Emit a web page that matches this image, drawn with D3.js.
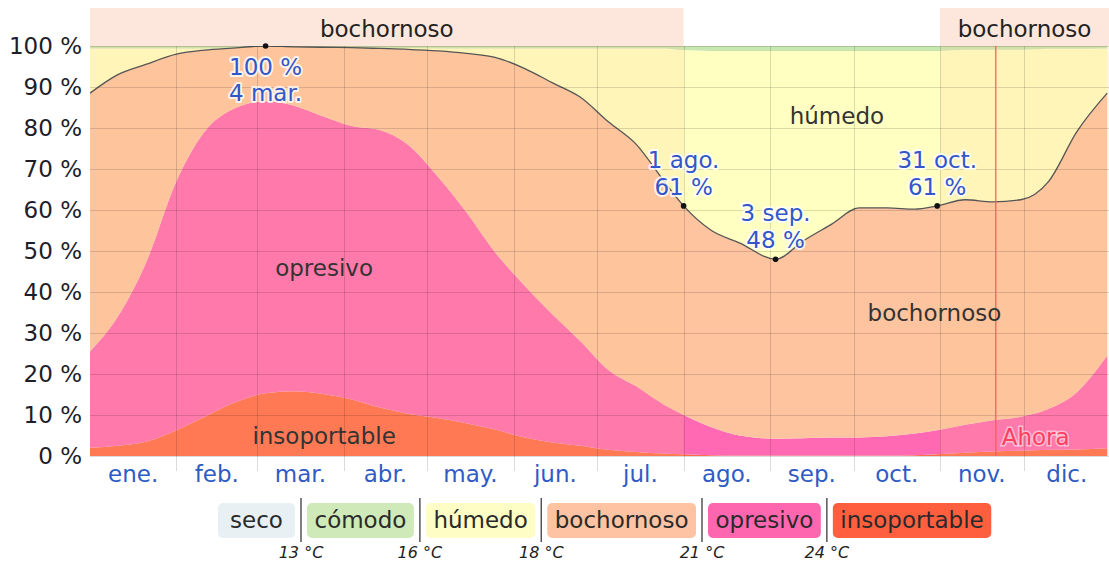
<!DOCTYPE html>
<html lang="es">
<head>
<meta charset="UTF-8">
<title>Niveles de comodidad de la humedad</title>
<script src="https://d3js.org/d3.v7.min.js"></script>
<style>
  body { margin: 0; background: #fff; }
  svg { display: block; font-family: "DejaVu Sans", Verdana, sans-serif; }
  .tick-y { font-size: 23px; fill: #1d1d2b; text-anchor: end; }
  .month { font-size: 23px; fill: #2f5bc4; text-anchor: middle; }
  .grid { stroke: #000; stroke-opacity: 0.14; stroke-width: 1; }
  .note { font-size: 23px; fill: #3356c8; text-anchor: middle;
          stroke: #fff; stroke-width: 4; stroke-opacity: 0.8; paint-order: stroke; stroke-linejoin: round; }
  .cat { font-size: 23px; fill: #333; text-anchor: middle; }
  .band-label { font-size: 23px; fill: #222; text-anchor: middle; }
  .legend-text { font-size: 23px; fill: #2a2a2a; }
  .temp { font-size: 16px; font-style: italic; fill: #222; text-anchor: middle; }
  .now { font-size: 23px; fill: #ff3f5f; stroke: #fff; stroke-width: 3; stroke-opacity: 0.5; paint-order: stroke; }
</style>
</head>
<body>
<svg id="chart" width="1109" height="565"></svg>
<script>
// sample dates (leap year axis)
const dates = [
  "2024-01-01","2024-01-11","2024-01-21","2024-02-01","2024-02-11","2024-02-21",
  "2024-03-04","2024-03-14","2024-03-24","2024-04-04","2024-04-14","2024-04-24",
  "2024-05-05","2024-05-15","2024-05-25","2024-06-05","2024-06-15","2024-06-25",
  "2024-07-05","2024-07-15","2024-07-25","2024-08-01","2024-08-11","2024-08-21",
  "2024-09-03","2024-09-13","2024-09-23","2024-10-03","2024-10-13","2024-10-23",
  "2024-10-31","2024-11-10","2024-11-20","2024-11-30","2024-12-10","2024-12-20",
  "2024-12-31"
];

// % of time in each category
const insoportable = [2, 2.5, 3.5, 6.3, 9.5, 12.8, 15.3, 15.8, 15.2, 13.8, 11.8, 10.3,
  9.2, 8, 6.5, 4.5, 3.3, 2.5, 1.5, 1, 0.6, 0.4, 0.2, 0.1,
  0.1, 0.1, 0.1, 0.1, 0.1, 0.2, 0.4, 0.8, 1.1, 1.3, 1.5, 1.6, 1.9];
const opresivo = [23.5, 31.5, 43.5, 60.7, 69.5, 71.7, 71.2, 69.7, 67.8, 66.7, 67.7, 65.7,
  58.8, 51.5, 43.5, 37, 31.2, 25.5, 19.5, 16, 11.9, 9.6, 6.8, 4.9,
  4.1, 4.2, 4.4, 4.4, 4.7, 5.3, 5.9, 6.8, 7.6, 8.3, 10, 13.9, 22.6];
const bochornoso = [63, 59, 48.5, 31, 20, 15, 13.5, 14.3, 16.7, 19.1, 19.9, 23.2,
  30.8, 38.7, 47.3, 53, 56.5, 59.5, 60.5, 59, 54.5, 51, 48, 47,
  43.8, 48.2, 52, 56, 55.7, 54.7, 54.7, 54.9, 53.3, 52.9, 55.5, 63.5, 64];
const humedo = [10.9, 6.4, 3.9, 1.4, 0.4, 0.1, 0, 0, 0, 0.1, 0.2, 0.3,
  0.6, 1.2, 2.1, 4.9, 8.4, 11.9, 17.9, 23.4, 32.4, 38, 43.8, 46.8,
  50.8, 46.3, 42.3, 38.3, 38.3, 38.6, 37.8, 36.6, 37.1, 36.6, 32.3, 20.3, 10.9];
const comodo = [0.6, 0.6, 0.6, 0.6, 0.6, 0.4, 0, 0.2, 0.3, 0.3, 0.4, 0.5,
  0.6, 0.6, 0.6, 0.6, 0.6, 0.6, 0.6, 0.6, 0.6, 1.0, 1.2, 1.2,
  1.2, 1.2, 1.2, 1.2, 1.2, 1.2, 1.2, 0.9, 0.9, 0.9, 0.7, 0.7, 0.6];
const seco = dates.map(() => 0);

const categories = ["seco", "cómodo", "húmedo", "bochornoso", "opresivo", "insoportable"];
const areaColors = ["#e6eff2", "#c8e6b0", "#ffffc2", "#fec4a0", "#ff69b3", "#ff6a48"];
const legendColors = ["#e8f0f3", "#cfe9b9", "#fefdc6", "#fdc3a2", "#ff66b0", "#ff5f3f"];
const thresholds = ["13 °C", "16 °C", "18 °C", "21 °C", "24 °C"];
const monthLabels = ["ene.","feb.","mar.","abr.","may.","jun.","jul.","ago.","sep.","oct.","nov.","dic."];

// muggy periods (top band)
const muggyPeriods = [["2024-01-01", "2024-08-01"], ["2024-11-01", "2025-01-01"]];
const notes = [
  { date: "2024-03-04", value: 100, lines: ["100 %", "4 mar."], below: true },
  { date: "2024-08-01", value: 61, lines: ["1 ago.", "61 %"] },
  { date: "2024-09-03", value: 48, lines: ["3 sep.", "48 %"] },
  { date: "2024-10-31", value: 61, lines: ["31 oct.", "61 %"] }
];
const nowDate = "2024-11-21";

const parse = d3.timeParse("%Y-%m-%d");
const svg = d3.select("#chart");
const x = d3.scaleTime().domain([parse("2024-01-01"), parse("2025-01-01")]).range([90, 1110]);
const y = d3.scaleLinear().domain([0, 100]).range([456, 46]);

const rows = dates.map((d, i) => ({
  date: parse(d),
  "insoportable": insoportable[i], "opresivo": opresivo[i], "bochornoso": bochornoso[i],
  "húmedo": humedo[i], "cómodo": comodo[i], "seco": seco[i]
}));
const stackKeys = categories.slice().reverse();
const series = d3.stack().keys(stackKeys)(rows);

svg.append("clipPath").attr("id", "plot")
  .append("rect").attr("x", 90).attr("y", y(100)).attr("width", 1020).attr("height", y(0) - y(100));

const area = d3.area()
  .x(d => x(d.data.date)).y0(d => y(d[0])).y1(d => y(d[1]))
  .curve(d3.curveMonotoneX);

const plot = svg.append("g").attr("clip-path", "url(#plot)");
plot.selectAll("path.area").data(series).join("path")
  .attr("class", "area")
  .attr("fill", s => areaColors[categories.indexOf(s.key)])
  .attr("d", area);

// tint over the muggy periods
plot.selectAll("rect.tint").data(muggyPeriods).join("rect")
  .attr("class", "tint")
  .attr("x", d => x(parse(d[0]))).attr("width", d => x(parse(d[1])) - x(parse(d[0])))
  .attr("y", y(100)).attr("height", y(0) - y(100))
  .attr("fill", "rgb(255,200,140)").attr("fill-opacity", 0.18);

// top band
svg.selectAll("rect.band").data(muggyPeriods).join("rect")
  .attr("class", "band")
  .attr("x", d => x(parse(d[0]))).attr("width", d => Math.min(x(parse(d[1])), 1109) - x(parse(d[0])))
  .attr("y", 8).attr("height", y(100) - 8)
  .attr("fill", "#fde6dc");
svg.selectAll("text.band-label").data(muggyPeriods).join("text")
  .attr("class", "band-label")
  .attr("x", d => (x(parse(d[0])) + Math.min(x(parse(d[1])), 1109)) / 2)
  .attr("y", 37)
  .text("bochornoso");

// gridlines
const yTicks = y.ticks(10);
svg.append("g").selectAll("line").data(yTicks).join("line")
  .attr("class", "grid")
  .attr("x1", 90).attr("x2", 1110)
  .attr("y1", d => Math.round(y(d)) + 0.5).attr("y2", d => Math.round(y(d)) + 0.5);

const months = d3.timeMonth.range(parse("2024-01-01"), parse("2025-01-01"));
svg.append("g").selectAll("line").data(months.slice(1)).join("line")
  .attr("class", "grid")
  .attr("x1", d => Math.round(x(d)) + 0.5).attr("x2", d => Math.round(x(d)) + 0.5)
  .attr("y1", y(100)).attr("y2", 471);

// muggy line (bochornoso or worse)
const muggy = d3.line()
  .x((d, i) => x(rows[i].date))
  .y(d => y(d))
  .curve(d3.curveMonotoneX);
plot.append("path")
  .datum(rows.map((r, i) => insoportable[i] + opresivo[i] + bochornoso[i]))
  .attr("fill", "none").attr("stroke", "#555").attr("stroke-width", 1.3)
  .attr("d", muggy);

// now line
const xn = x(parse(nowDate));
svg.append("line")
  .attr("x1", xn).attr("x2", xn).attr("y1", y(100)).attr("y2", y(0))
  .attr("stroke", "#ff5a5a").attr("stroke-width", 1.5).attr("stroke-opacity", 0.85);
svg.append("text").attr("class", "now")
  .attr("x", xn + 6).attr("y", y(0) - 11).text("Ahora");

// y axis labels
svg.append("g").selectAll("text").data(yTicks).join("text")
  .attr("class", "tick-y")
  .attr("x", 82).attr("y", d => y(d) + 8)
  .text(d => d + " %");

// month labels
svg.append("g").selectAll("text").data(months).join("text")
  .attr("class", "month")
  .attr("x", d => (x(d) + x(d3.timeMonth.offset(d, 1))) / 2)
  .attr("y", 482)
  .text((d, i) => monthLabels[i]);

// category labels inside plot
const catLabels = [
  { text: "opresivo", date: "2024-03-25", value: 44 },
  { text: "húmedo", date: "2024-09-25", value: 81 },
  { text: "bochornoso", date: "2024-10-30", value: 33 },
  { text: "insoportable", date: "2024-03-25", value: 3 }
];
svg.append("g").selectAll("text").data(catLabels).join("text")
  .attr("class", "cat")
  .attr("x", d => x(parse(d.date)))
  .attr("y", d => y(d.value))
  .text(d => d.text);

// annotated points
const ng = svg.append("g");
ng.selectAll("circle").data(notes).join("circle")
  .attr("cx", d => x(parse(d.date))).attr("cy", d => y(d.value))
  .attr("r", 2.8).attr("fill", "#111");
notes.forEach(n => {
  const cx = x(parse(n.date)), cy = y(n.value);
  const base = n.below ? [cy + 29, cy + 55] : [cy - 38, cy - 11];
  n.lines.forEach((t, i) => {
    ng.append("text").attr("class", "note")
      .attr("x", cx).attr("y", base[i]).text(t);
  });
});

// legend
const lg = svg.append("g");
const pad = 7.5, gap = 6, minBox = 77;
let lx = 218;
const sepX = [];
categories.forEach((c, i) => {
  const t = lg.append("text").attr("class", "legend-text").attr("y", 528).text(c);
  const w = t.node().getComputedTextLength();
  const bw = Math.max(minBox, w + pad * 2);
  lg.insert("rect", "text")
    .attr("x", lx).attr("y", 503).attr("width", bw).attr("height", 35)
    .attr("rx", 5).attr("fill", legendColors[i]);
  t.attr("x", lx + (bw - w) / 2);
  lx += bw;
  if (i < categories.length - 1) {
    sepX.push(lx + gap);
    lx += gap * 2;
  }
});
lg.selectAll("line").data(sepX).join("line")
  .attr("x1", d => d).attr("x2", d => d).attr("y1", 498).attr("y2", 542)
  .attr("stroke", "#555").attr("stroke-width", 1.5);
lg.selectAll("text.temp").data(thresholds).join("text")
  .attr("class", "temp")
  .attr("x", (d, i) => sepX[i]).attr("y", 558)
  .text(d => d);
</script>
</body>
</html>
